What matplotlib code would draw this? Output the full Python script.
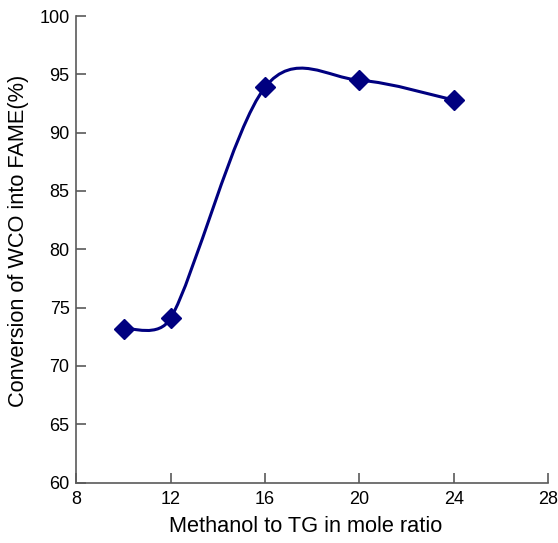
import matplotlib
matplotlib.use("Agg")
import matplotlib.pyplot as plt
from matplotlib.path import Path
from matplotlib.patches import PathPatch
import numpy as np

ratio = [10, 12, 16, 20, 24]
conversion = [73.2, 74.1, 93.9, 94.5, 92.8]
x_ticks = [8, 12, 16, 20, 24, 28]
y_ticks = [60, 65, 70, 75, 80, 85, 90, 95, 100]

plt.rcParams['font.family'] = ['Liberation Sans', 'DejaVu Sans']

fig = plt.figure(figsize=(5.58, 5.43), dpi=100)
ax = fig.add_axes([0.137, 0.1114, 0.845, 0.859])
ax.set_xlim(8, 28)
ax.set_ylim(60, 100)

# spreadsheet-style smoothed line (Bezier in display space with capped tangents)
disp = ax.transData.transform(np.column_stack([ratio, conversion]).astype(float))
n = len(disp)
verts = [disp[0]]
codes = [Path.MOVETO]
for i in range(n - 1):
    p0 = disp[i - 1] if i > 0 else disp[i]
    p1 = disp[i]
    p2 = disp[i + 1]
    p3 = disp[i + 2] if i + 2 < n else disp[i + 1]
    d02 = np.hypot(*(p2 - p0))
    d12 = np.hypot(*(p2 - p1))
    d13 = np.hypot(*(p3 - p1))
    f0 = 1 / 6.0
    f1 = 1 / 6.0
    if d02 / 6.0 >= d12 / 2.0 and d02 > 0:
        f0 = d12 / d02 / 2.0
    if d13 / 6.0 >= d12 / 2.0 and d13 > 0:
        f1 = d12 / d13 / 2.0
    c1 = p1 + (p2 - p0) * f0
    c2 = p2 - (p3 - p1) * f1
    verts += [c1, c2, p2]
    codes += [Path.CURVE4] * 3
verts_data = ax.transData.inverted().transform(np.array(verts))
patch = PathPatch(Path(verts_data, codes), facecolor='none', edgecolor='#000080',
                  lw=2.2, zorder=2)
ax.add_patch(patch)

ax.plot(ratio, conversion, linestyle='none', marker='D', markersize=10,
        color='#000080', zorder=3)

ax.set_xticks(x_ticks)
ax.set_yticks(y_ticks)
for s in ['top', 'right']:
    ax.spines[s].set_visible(False)
for s in ['left', 'bottom']:
    ax.spines[s].set_color('#5a5a5a')
    ax.spines[s].set_linewidth(1.2)
ax.tick_params(direction='in', length=7.5, width=1.2, color='#5a5a5a',
               labelsize=13)
ax.tick_params(axis='x', pad=6.2)
ax.tick_params(axis='y', pad=5)
ax.set_xlabel('Methanol to TG in mole ratio', fontsize=15.7, labelpad=6)
ax.set_ylabel('Conversion of WCO into FAME(%)', fontsize=15.7, labelpad=7.5)
ax.xaxis.label.set_x(0.486)
ax.yaxis.label.set_y(0.519)

fig.savefig('out.png', dpi=100)
